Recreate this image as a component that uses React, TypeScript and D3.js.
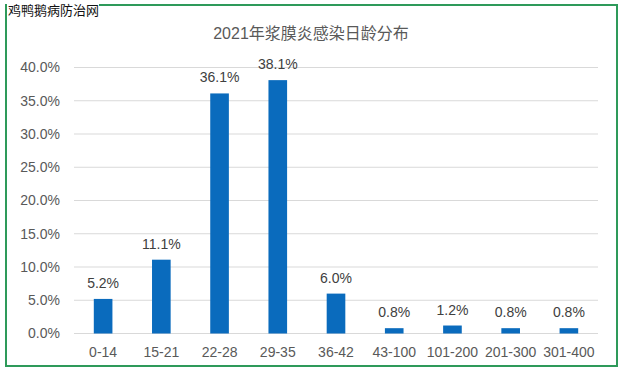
import React from "react";
import * as d3 from "d3";

const categories = ["0-14", "15-21", "22-28", "29-35", "36-42", "43-100", "101-200", "201-300", "301-400"];
const values = [5.2, 11.1, 36.1, 38.1, 6.0, 0.8, 1.2, 0.8, 0.8];
const yTicks = [0, 5, 10, 15, 20, 25, 30, 35, 40];
const title = "2021年浆膜炎感染日龄分布";
const watermark = "鸡鸭鹅病防治网";

export default function App() {
  const W = 628, H = 378;
  const left = 74, right = 598, top = 67.5, bottom = 333.5;
  const x = d3.scaleBand<string>().domain(categories).range([left, right]).paddingInner(0.68).paddingOuter(0.34);
  const y = d3.scaleLinear().domain([0, 40]).range([bottom, top]);
  const font = "Arial, 'Liberation Sans', 'Noto Sans CJK SC', sans-serif";
  const grey = "#595959";
  return (
    <svg width={W} height={H} style={{ position: "absolute", left: 0, top: 0 }} fontFamily={font}>
      <rect x={0} y={0} width={W} height={H} fill="#fff" />
      <rect x={6} y={5} width={611} height={361} fill="#fff" stroke="#2e9a5a" strokeWidth={2} />
      {yTicks.map((t) => (
        <g key={t}>
          <line x1={left} x2={right} y1={y(t)} y2={y(t)} stroke="#d9d9d9" strokeWidth={1} />
          <text x={60} y={y(t)} dy="0.35em" textAnchor="end" fontSize={14} fill={grey}>
            {t.toFixed(1)}%
          </text>
        </g>
      ))}
      {categories.map((c, i) => (
        <g key={c}>
          <rect x={x(c)} y={y(values[i])} width={x.bandwidth()} height={bottom - y(values[i])} fill="#0a6bbd" />
          <text x={(x(c) as number) + x.bandwidth() / 2} y={y(values[i]) - 11} textAnchor="middle" fontSize={14} fill="#404040">
            {values[i].toFixed(1)}%
          </text>
          <text x={(x(c) as number) + x.bandwidth() / 2} y={352} dy="0.35em" textAnchor="middle" fontSize={14} fill={grey}>
            {c}
          </text>
        </g>
      ))}
      <text x={311} y={33} dy="0.35em" textAnchor="middle" fontSize={16} fill={grey}>
        {title}
      </text>
      <rect x={7} y={1} width={92} height={18} fill="#fff" />
      <text x={8} y={10} dy="0.35em" fontSize={13} fill="#111" fontFamily="'Noto Sans CJK SC', sans-serif">
        {watermark}
      </text>
    </svg>
  );
}
